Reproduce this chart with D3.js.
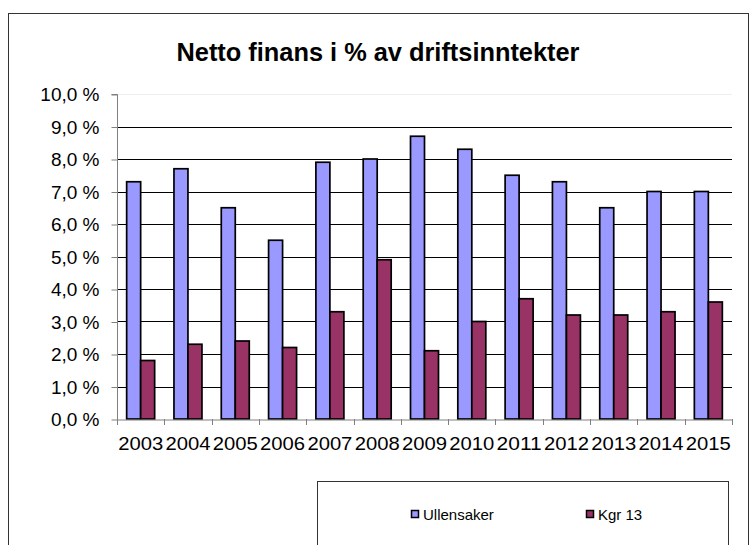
<!DOCTYPE html>
<html lang="no">
<head>
  <meta charset="UTF-8">
  <title>Netto finans i % av driftsinntekter</title>
  <script src="https://cdn.jsdelivr.net/npm/d3@7"></script>
  <style>
    html, body {
      margin: 0;
      padding: 0;
      background: #fff;
    }
    svg text {
      font-family: Arial, "Liberation Sans", sans-serif;
      fill: #000;
    }
  </style>
</head>
<body>
  <svg id="chart" width="751" height="545"></svg>
  <script>
    const years = ['2003', '2004', '2005', '2006', '2007', '2008', '2009',
      '2010', '2011', '2012', '2013', '2014', '2015'];
    const ullensaker = [7.3, 7.7, 6.5, 5.5, 7.9, 8.0, 8.7, 8.3, 7.5, 7.3, 6.5, 7.0, 7.0];
    const kgr13 = [1.8, 2.3, 2.4, 2.2, 3.3, 4.9, 2.1, 3.0, 3.7, 3.2, 3.2, 3.3, 3.6];
    const seriesNames = ['Ullensaker', 'Kgr 13'];
    const yTicks = [0, 1, 2, 3, 4, 5, 6, 7, 8, 9, 10];

    const colors = {Ullensaker: '#9999ff', 'Kgr 13': '#993366'};

    const svg = d3.select('#chart');

    // chart frame (bottom runs off the picture)
    svg.append('rect')
      .attr('x', 8.5).attr('y', 13.5)
      .attr('width', 740).attr('height', 560)
      .attr('fill', 'none')
      .attr('stroke', '#333');

    svg.append('text')
      .attr('x', 378).attr('y', 61)
      .attr('text-anchor', 'middle')
      .attr('font-size', 25)
      .attr('font-weight', 'bold')
      .attr('textLength', 403)
      .attr('lengthAdjust', 'spacingAndGlyphs')
      .text('Netto finans i % av driftsinntekter');

    const plotL = 117, plotR = 732, plotT = 94, plotB = 419;

    const x = d3.scaleBand().domain(years).range([plotL, plotR]);
    const x1 = d3.scaleBand().domain(seriesNames)
      .range([0, x.bandwidth()])
      .paddingOuter(0.69);
    const y = d3.scaleLinear().domain([0, 10]).range([plotB, plotT]);

    // gridlines
    svg.append('g')
      .selectAll('line')
      .data(yTicks.filter(d => d > 0))
      .join('line')
      .attr('x1', plotL).attr('x2', plotR)
      .attr('y1', d => Math.round(y(d)) + 0.5)
      .attr('y2', d => Math.round(y(d)) + 0.5)
      .attr('stroke', d => d === 10 ? '#eee' : '#000');

    // bars
    const rows = years.map((yr, i) => ({year: yr, values: [
      {name: 'Ullensaker', v: ullensaker[i]},
      {name: 'Kgr 13', v: kgr13[i]}
    ]}));

    svg.append('g')
      .selectAll('g')
      .data(rows)
      .join('g')
      .attr('transform', d => `translate(${x(d.year)},0)`)
      .selectAll('rect')
      .data(d => d.values)
      .join('rect')
      .attr('x', d => x1(d.name))
      .attr('y', d => y(d.v))
      .attr('width', x1.bandwidth())
      .attr('height', d => y(0) - y(d.v))
      .attr('fill', d => colors[d.name])
      .attr('stroke', '#000')
      .attr('stroke-width', 1.7);

    // y axis
    const yAxis = svg.append('g')
      .attr('transform', `translate(${plotL + 0.5},0.5)`)
      .call(d3.axisLeft(y)
        .tickValues(yTicks)
        .tickSize(6)
        .tickPadding(12)
        .tickFormat(d => d3.format('.1f')(d).replace('.', ',') + ' %'));
    yAxis.select('.domain').attr('stroke', '#808080').attr('d', `M-6,${plotT}H0V${plotB}`);
    yAxis.selectAll('.tick line').attr('stroke', '#808080');
    yAxis.selectAll('text').attr('font-size', 19).attr('font-family', 'Arial, "Liberation Sans", sans-serif');

    // x axis
    const xAxis = svg.append('g')
      .attr('transform', `translate(0,${plotB + 0.5})`)
      .call(d3.axisBottom(x).tickSize(0).tickPadding(17));
    xAxis.select('.domain').attr('stroke', '#808080');
    xAxis.selectAll('text')
      .attr('font-size', 19)
      .attr('font-family', 'Arial, "Liberation Sans", sans-serif')
      .attr('textLength', 45)
      .attr('lengthAdjust', 'spacingAndGlyphs');
    // category separators
    svg.append('g')
      .selectAll('line')
      .data(years.map(yr => x(yr)).concat([plotR]))
      .join('line')
      .attr('x1', d => Math.round(d) + 0.5).attr('x2', d => Math.round(d) + 0.5)
      .attr('y1', plotB).attr('y2', plotB + 6)
      .attr('stroke', '#808080');

    // legend
    const legend = svg.append('g');
    legend.append('rect')
      .attr('x', 317.5).attr('y', 481.5)
      .attr('width', 411).attr('height', 90)
      .attr('fill', 'none')
      .attr('stroke', '#333');

    const legendX = d3.scalePoint().domain(seriesNames).range([411, 586]);
    const item = legend.selectAll('g.item')
      .data(seriesNames)
      .join('g')
      .attr('class', 'item')
      .attr('transform', d => `translate(${legendX(d)},514)`);
    item.append('rect')
      .attr('x', 0.5).attr('y', -3.5)
      .attr('width', 7).attr('height', 7)
      .attr('fill', d => colors[d])
      .attr('stroke', '#000')
      .attr('stroke-width', 1.5);
    item.append('text')
      .attr('x', 12).attr('y', 5.5)
      .attr('font-size', 15)
      .text(d => d);
  </script>
</body>
</html>
